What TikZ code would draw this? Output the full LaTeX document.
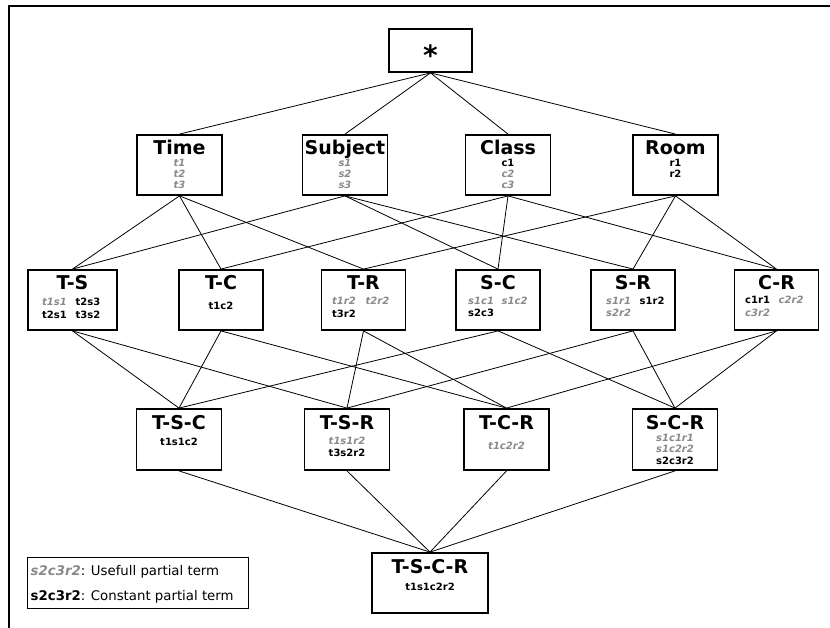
\documentclass[tikz,border=0pt]{standalone}
\usepackage{fontspec}
\usetikzlibrary{backgrounds}
\setmainfont{DejaVu Sans}
\definecolor{usegray}{RGB}{138,138,138}
% useful partial terms: grey bold oblique; constant partial terms: black bold
\newcommand\usf[1]{{\bfseries\itshape\color{usegray}#1}}
\newcommand\cst[1]{{\bfseries #1}}
\newcommand\twocol[2]{\makebox[33.5pt][l]{#1}#2}
\tikzset{
  box/.style={draw, line width=1.8pt, fill=white, inner sep=0pt},
  lvA/.style={box, minimum width=85pt, minimum height=60pt},
  lvB/.style={box, minimum width=84pt, minimum height=60pt},
  lvC/.style={box, minimum width=85pt, minimum height=61pt},
  edge/.style={line width=0.8pt},
  ttl/.style={font=\fontsize{19}{19}\selectfont\bfseries, inner sep=0pt, anchor=base},
  itm/.style={font=\fontsize{10}{10}\selectfont, inner sep=0pt, anchor=base},
  itmL/.style={itm, anchor=base west},
  lgd/.style={font=\fontsize{13.3}{13.3}\selectfont, inner sep=0pt, anchor=base west},
}
\begin{document}
\begin{tikzpicture}[x=1pt, y=-1pt]
\useasboundingbox (0,0) rectangle (830,628);
% frame
\draw[line width=2pt] (9,628) -- (9,6) -- (830,6);

% lattice nodes
\node[box, minimum width=83pt, minimum height=43pt] (top) at (430.5,50.5) {};
\node[lvA] (time) at (179.5,165) {};
\node[lvA] (subj) at (345,165) {};
\node[lvA] (clas) at (508,165) {};
\node[lvA] (room) at (675.5,165) {};
\node[box, minimum width=89pt, minimum height=60pt] (ts) at (72.5,300) {};
\node[lvB] (tc) at (221,300) {};
\node[lvB] (tr) at (363.5,300) {};
\node[lvB] (sc) at (498,300) {};
\node[lvB] (sr) at (633,300) {};
\node[lvB] (cr) at (776.5,300) {};
\node[lvC] (tsc) at (179,439.5) {};
\node[lvC] (tsr) at (347,439.5) {};
\node[lvC] (tcr) at (506.5,439.5) {};
\node[lvC] (scr) at (675,439.5) {};
\node[box, minimum width=116pt, minimum height=60pt] (tscr) at (430,583) {};

% connectors, kept behind the boxes
\begin{pgfonlayer}{background}
\foreach \a/\b in {top/time, top/subj, top/clas, top/room,
  time/ts, time/tc, time/tr, subj/ts, subj/sc, subj/sr,
  clas/tc, clas/sc, clas/cr, room/tr, room/sr, room/cr,
  ts/tsc, ts/tsr, tc/tsc, tc/tcr, tr/tsr, tr/tcr,
  sc/tsc, sc/scr, sr/tsr, sr/scr, cr/tcr, cr/scr,
  tsc/tscr, tsr/tscr, tcr/tscr, scr/tscr}
  \draw[edge] (\a.south) -- (\b.north);
\end{pgfonlayer}

% texts
\node[font=\fontsize{28}{28}\selectfont\bfseries, inner sep=0pt] (top-t) at (430.5,55) {*};

\node[ttl] (time-t) at (179.5,155) {Time};
\node[itm] (time-1) at (179.5,166.7) {\usf{t1}};
\node[itm] (time-2) at (179.5,177.8) {\usf{t2}};
\node[itm] (time-3) at (179.5,189) {\usf{t3}};

\node[ttl] (subj-t) at (345,155) {Subject};
\node[itm] (subj-1) at (345,166.7) {\usf{s1}};
\node[itm] (subj-2) at (345,177.8) {\usf{s2}};
\node[itm] (subj-3) at (345,189) {\usf{s3}};

\node[ttl] (clas-t) at (508,155) {Class};
\node[itm] (clas-1) at (508,166.7) {\cst{c1}};
\node[itm] (clas-2) at (508,177.8) {\usf{c2}};
\node[itm] (clas-3) at (508,189) {\usf{c3}};

\node[ttl] (room-t) at (675.5,155) {Room};
\node[itm] (room-1) at (675.5,166.7) {\cst{r1}};
\node[itm] (room-2) at (675.5,177.8) {\cst{r2}};

\node[ttl] (ts-t) at (72.5,289.5) {T-S};
\node[itmL] (ts-1) at (42,306) {\twocol{\usf{t1s1}}{\cst{t2s3}}};
\node[itmL] (ts-2) at (42,319) {\twocol{\cst{t2s1}}{\cst{t3s2}}};

\node[ttl] (tc-t) at (221,289.5) {T-C};
\node[itm] (tc-1) at (221,310) {\cst{t1c2}};

\node[ttl] (tr-t) at (363.5,289.5) {T-R};
\node[itmL] (tr-1) at (332,305) {\twocol{\usf{t1r2}}{\usf{t2r2}}};
\node[itmL] (tr-2) at (332,317.5) {\cst{t3r2}};

\node[ttl] (sc-t) at (498,289.5) {S-C};
\node[itmL] (sc-1) at (468,305) {\twocol{\usf{s1c1}}{\usf{s1c2}}};
\node[itmL] (sc-2) at (468,317) {\cst{s2c3}};

\node[ttl] (sr-t) at (633,289.5) {S-R};
\node[itmL] (sr-1) at (606,305) {\twocol{\usf{s1r1}}{\cst{s1r2}}};
\node[itmL] (sr-2) at (606,317) {\usf{s2r2}};

\node[ttl] (cr-t) at (776.5,289.5) {C-R};
\node[itmL] (cr-1) at (745,304) {\twocol{\cst{c1r1}}{\usf{c2r2}}};
\node[itmL] (cr-2) at (745,316.5) {\usf{c3r2}};

\node[ttl] (tsc-t) at (179,429.5) {T-S-C};
\node[itm] (tsc-1) at (179,445.5) {\cst{t1s1c2}};

\node[ttl] (tsr-t) at (347,429.5) {T-S-R};
\node[itm] (tsr-1) at (347,444.3) {\usf{t1s1r2}};
\node[itm] (tsr-2) at (347,456.5) {\cst{t3s2r2}};

\node[ttl] (tcr-t) at (506.5,429.5) {T-C-R};
\node[itm] (tcr-1) at (506.5,449) {\usf{t1c2r2}};

\node[ttl] (scr-t) at (675,429.5) {S-C-R};
\node[itm] (scr-1) at (675,441) {\usf{s1c1r1}};
\node[itm] (scr-2) at (675,452.5) {\usf{s1c2r2}};
\node[itm] (scr-3) at (675,464.3) {\cst{s2c3r2}};

\node[ttl] (tscr-t) at (430,573.5) {T-S-C-R};
\node[itm] (tscr-1) at (430,590.7) {\cst{t1s1c2r2}};

% legend
\node[draw, line width=0.8pt, inner sep=0pt, minimum width=221pt, minimum height=51pt, anchor=north west] (legend) at (27,557) {};
\node[lgd] (legend-1) at (30.5,575) {\usf{s2c3r2}: Usefull partial term};
\node[lgd] (legend-2) at (30.5,600) {\cst{s2c3r2}: Constant partial term};
\end{tikzpicture}
\end{document}
